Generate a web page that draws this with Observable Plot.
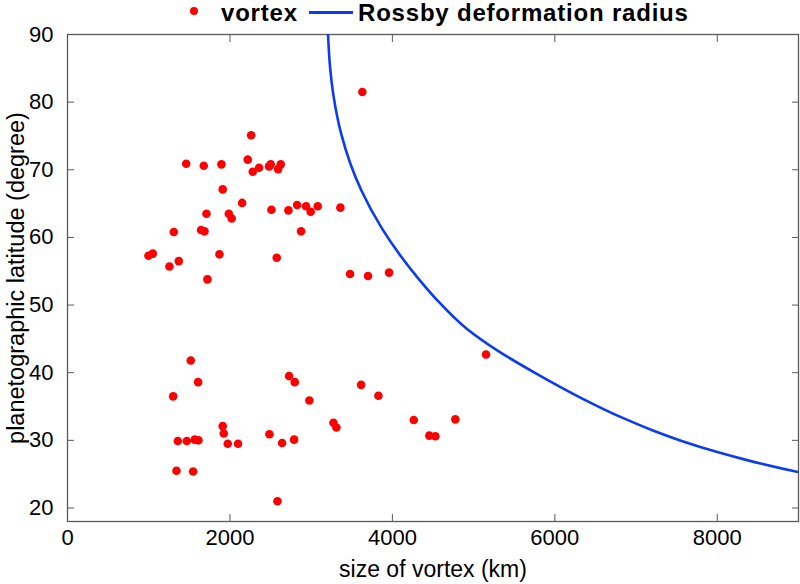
<!DOCTYPE html>
<html>
<head>
<meta charset="utf-8">
<script src="https://cdn.jsdelivr.net/npm/d3@7"></script>
<script src="https://cdn.jsdelivr.net/npm/@observablehq/plot@0.6"></script>
<style>
  html, body { margin: 0; padding: 0; background: #fff; }
  #wrap { position: relative; width: 800px; height: 584px; font-family: "Liberation Sans", Arial, Helvetica, sans-serif; }
  #legend { position: relative; width: 800px; height: 18px; }
  #legend .dot { position: absolute; left: 190px; top: 7px; width: 8px; height: 8px; border-radius: 50%; background: #ff0000; }
  #legend .txt { position: absolute; top: 0px; font-size: 24px; font-weight: bold; line-height: 26px; color: #000; letter-spacing: 0.8px; white-space: nowrap; }
  #legend .ln { position: absolute; left: 309px; top: 11px; width: 44px; height: 2.5px; background: #0b3bf5; }
  svg { display: block; overflow: visible; }
</style>
</head>
<body>
<div id="wrap">
  <div id="legend"></div>
  <div id="chart"></div>
</div>
<script>
// ---- data ----
const vortexKm = [3630, 2261, 1461, 1678, 1895, 2219, 2281, 2359, 2482, 2502, 2593, 2626,
  1911, 2150, 2511, 2720, 2827, 2937, 2994, 3081, 3360, 1711, 1986, 2022, 1309, 1645, 1686, 2876,
  997, 1050, 1871, 2576, 1255, 1370, 1723, 3479, 3700, 3959, 5153, 3615, 3828, 3274, 3311, 4263,
  4455, 4529, 4775, 1518, 1608, 1301, 2728, 2798, 2978, 1911, 1924, 1358, 1469, 1567, 1612, 1973,
  2100, 2486, 2642, 2790, 1342, 1547, 2585];
const vortexLat = [81.5, 75.1, 70.9, 70.6, 70.8, 71.5, 69.7, 70.3, 70.5, 70.8, 70.1, 70.8,
  67.1, 65.1, 64.1, 64.0, 64.8, 64.6, 63.8, 64.6, 64.4, 63.5, 63.5, 62.8, 60.8, 61.1, 60.9, 60.9,
  57.3, 57.6, 57.5, 57.0, 55.7, 56.5, 53.8, 54.6, 54.3, 54.8, 42.7, 38.2, 36.6, 32.6, 31.9, 33.0,
  30.7, 30.6, 33.1, 41.8, 38.6, 36.5, 39.5, 38.6, 35.9, 32.1, 31.0, 29.9, 29.9, 30.1, 30.0, 29.5,
  29.5, 30.9, 29.6, 30.1, 25.5, 25.4, 21.0];

const rossbyKm  = [3208, 3229, 3278, 3370, 3483, 3620, 3873, 4093, 4300, 4530, 4915, 5290, 5766, 6350, 6800, 7200, 7590, 7990, 8390, 9000];
const rossbyLat = [90.0, 85.7, 80.7, 75.3, 70.9, 66.9, 61.3, 57.4, 54.2, 51.0, 46.5, 43.3, 39.9, 36.1, 33.5, 31.5, 29.8, 28.3, 27.0, 25.3];

const xTicks = [0, 2000, 4000, 6000, 8000];
const yTicks = [20, 30, 40, 50, 60, 70, 80, 90];
const xDomain = [0, 9000];
const yDomain = [18, 90];

const legendLabels = ["vortex", "Rossby deformation radius"];
const xLabel = "size of vortex (km)";
const yLabel = "planetographic latitude (degree)";

// ---- build tables ----
const vortices = vortexKm.map((x, i) => ({x, lat: vortexLat[i]}));
const rossby = rossbyKm.map((x, i) => ({x, lat: rossbyLat[i]}));

// ---- legend ----
const legend = document.getElementById("legend");
legend.innerHTML = `<div class="dot"></div><span class="txt" style="left:221px">${legendLabels[0]}</span>` +
  `<div class="ln"></div><span class="txt" style="left:358px">${legendLabels[1]}</span>`;

const axisColor = "#5a5a5a";
const chart = Plot.plot({
  width: 800,
  height: 566,
  marginTop: 16,
  marginLeft: 67,
  marginRight: 2,
  marginBottom: 63,
  style: {fontFamily: '"Liberation Sans", Arial, Helvetica, sans-serif', fontSize: "22px", color: "#000", background: "transparent", overflow: "visible"},
  x: {domain: xDomain, ticks: xTicks},
  y: {domain: yDomain, ticks: yTicks},
  marks: [
    Plot.frame({stroke: axisColor, strokeWidth: 1.3}),
    Plot.axisX({anchor: "bottom", ticks: xTicks, tickSize: -7, tickPadding: 15, stroke: axisColor, fill: "#000", fontSize: 22, label: null, tickFormat: d => String(d)}),
    Plot.axisX({anchor: "top", ticks: xTicks, tickSize: -7, stroke: axisColor, tickFormat: () => "", label: null}),
    Plot.axisY({anchor: "left", ticks: yTicks, tickSize: -7, tickPadding: 21, stroke: axisColor, fill: "#000", fontSize: 22, label: null}),
    Plot.axisY({anchor: "right", ticks: yTicks, tickSize: -7, stroke: axisColor, tickFormat: () => "", label: null}),
    Plot.line(rossby, {x: "x", y: "lat", stroke: "#0b3bf5", strokeWidth: 2.6, curve: "monotone-y", clip: true}),
    Plot.dot(vortices, {x: "x", y: "lat", r: 4.3, fill: "#ff0000", stroke: "none"}),
    Plot.text([xLabel], {frameAnchor: "bottom", dy: 55, text: d => d, fontSize: 23, fill: "#000"}),
    Plot.text([yLabel], {frameAnchor: "left", dx: -51, rotate: -90, textAnchor: "middle", text: d => d, fontSize: 23.5, fill: "#000"})
  ]
});
document.getElementById("chart").appendChild(chart);
</script>
</body>
</html>
